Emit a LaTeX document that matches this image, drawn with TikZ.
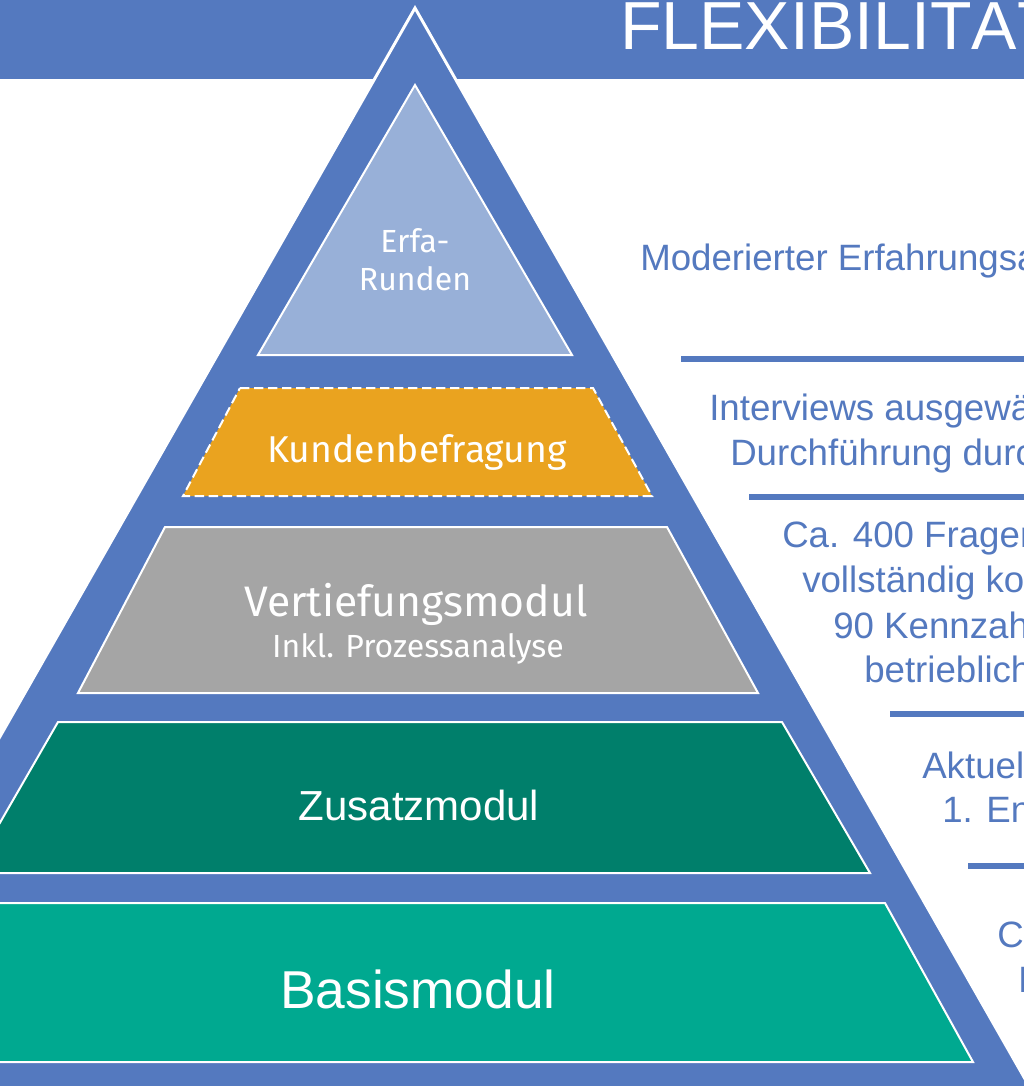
\documentclass[tikz,border=0pt]{standalone}
\usepackage{fontspec}
\setmainfont{Liberation Sans}
\newfontfamily\plexfont{Fira Sans}
\usetikzlibrary{positioning,calc}
\definecolor{pyBlue}{HTML}{5479BF}
\definecolor{pyTop}{HTML}{98B0D8}
\definecolor{pyOrange}{HTML}{EAA31F}
\definecolor{pyGray}{HTML}{A5A5A5}
\definecolor{pyDark}{HTML}{007F6B}
\definecolor{pyGreen}{HTML}{00A990}
\tikzset{
  layer/.style={draw=white, line width=1.5pt, line join=miter},
  layertext/.style={text=white, inner sep=0pt, anchor=base},
  sidetext/.style={text=pyBlue, anchor=base west, inner sep=0pt, font=\fontsize{27.5}{33}\selectfont},
  sepline/.style={draw=pyBlue, line width=4.5pt}
}

\begin{document}
\begin{tikzpicture}[x=0.75pt, y=-0.75pt]
  \useasboundingbox (0,0) rectangle (1024,1086);
  \clip (0,0) rectangle (1024,1086);
  % header band
  \fill[pyBlue] (0,0) rectangle (1024,79);
  \node[anchor=base west, inner sep=0pt, text=white, font=\fontsize{51}{60}\selectfont] (title) at (620,49) {FLEXIBILITÄT};
  % outer pyramid
  \draw[fill=pyBlue, draw=white, line width=2.2pt] (415,8) -- (1037,1100) -- (-207,1100) -- cycle;
  % layers
  \draw[layer, fill=pyTop] (415,85) -- (572,355) -- (258,355) -- cycle;
  \draw[layer, fill=pyOrange, dash pattern=on 7pt off 3.5pt] (240,388) -- (593,388) -- (652,496) -- (183,496) -- cycle;
  \draw[layer, fill=pyGray] (165,527) -- (667,527) -- (758,693) -- (78,693) -- cycle;
  \draw[layer, fill=pyDark] (58,722) -- (782,722) -- (870,873) -- (-29,873) -- cycle;
  \draw[layer, fill=pyGreen] (-49,903) -- (885,903) -- (973,1062) -- (-137,1062) -- cycle;
  \node[layertext, anchor=center, align=center, font=\plexfont\fontsize{24}{28.5}\selectfont] (erfa) at (415,260) {Erfa-\\Runden};
  \node[layertext, font=\plexfont\fontsize{28}{33}\selectfont] (kunden) at (417,462) {Kundenbefragung};
  \node[layertext, font=\plexfont\fontsize{32}{38}\selectfont] (vert) at (416,616) {Vertiefungsmodul};
  \node[layertext, font=\plexfont\fontsize{24}{28}\selectfont] (vertsub) at (418,657) {Inkl. Prozessanalyse};
  \node[layertext, font=\fontsize{31.5}{37}\selectfont] (zusatz) at (419,820) {Zusatzmodul};
  \node[layertext, font=\fontsize{40}{47}\selectfont] (basis) at (418,1008) {Basismodul};
  % separators
  \draw[sepline] (681,359) -- (1030,359);
  \draw[sepline] (749,497) -- (1030,497);
  \draw[sepline] (890,714) -- (1030,714);
  \draw[sepline] (968,866) -- (1030,866);
  % descriptions
  \node[sidetext] (moder) at (640,270) {Moderierter Erfahrungsa};
  \node[sidetext] (intv1) at (709,420) {Interviews ausgewä};
  \node[sidetext] (intv2) at (730,465) {Durchführung durc};
  \node[sidetext] (frag1) at (782,547) {Ca. 400 Fragen};
  \node[sidetext] (frag2) at (802,592) {vollständig ko};
  \node[sidetext] (frag3) at (833,638) {90 Kennzah};
  \node[sidetext] (frag4) at (864,682) {betrieblich};
  \node[sidetext] (akt1) at (922,778) {Aktuel};
  \node[sidetext] (akt2) at (942,822) {1. En};
  \node[sidetext] (ca1) at (997,947) {Ca};
  \node[sidetext] (ca2) at (1018,992) {H};
\end{tikzpicture}
\end{document}
